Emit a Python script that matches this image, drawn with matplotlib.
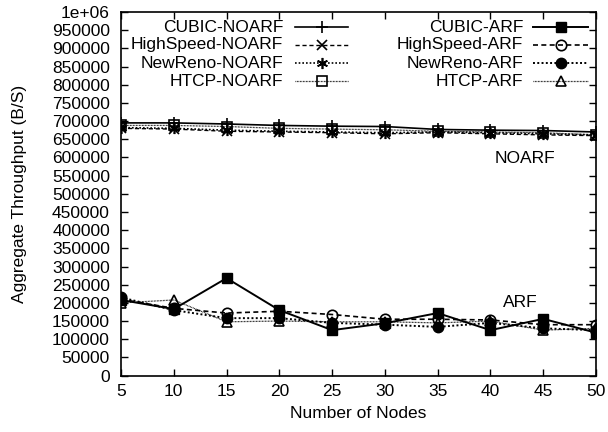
import matplotlib
matplotlib.use("Agg")
import matplotlib.pyplot as plt
from matplotlib.lines import Line2D

plt.rcParams['font.family'] = ['Liberation Sans', 'DejaVu Sans']

nodes = [5, 10, 15, 20, 25, 30, 35, 40, 45, 50]

cubic_noarf = [695000, 695000, 692000, 688000, 686000, 685000, 677000, 675000, 674000, 670000]
highspeed_noarf = [680000, 678000, 672000, 670000, 668000, 665000, 668000, 665000, 662000, 660000]
newreno_noarf = [682000, 680000, 675000, 672000, 670000, 668000, 670000, 668000, 665000, 662000]
htcp_noarf = [688000, 688000, 685000, 680000, 678000, 676000, 672000, 670000, 668000, 662000]

cubic_arf = [208000, 183000, 268000, 180000, 125000, 144000, 172000, 125000, 156000, 118000]
highspeed_arf = [210000, 185000, 172000, 177000, 168000, 155000, 155000, 153000, 140000, 140000]
newreno_arf = [215000, 180000, 158000, 158000, 145000, 140000, 134000, 145000, 130000, 125000]
htcp_arf = [200000, 208000, 148000, 150000, 148000, 148000, 145000, 150000, 125000, 130000]

x_ticks = [5, 10, 15, 20, 25, 30, 35, 40, 45, 50]
y_ticks = list(range(0, 1000001, 50000))
y_ticklabels = [str(v) for v in y_ticks[:-1]] + ['1e+06']

series = [
    ("CUBIC-NOARF", cubic_noarf, dict(ls='-', lw=1.2, marker='+', ms=9, mew=1.2, mfc='none')),
    ("HighSpeed-NOARF", highspeed_noarf, dict(ls=(0, (3, 2)), lw=1.0, marker='x', ms=7, mew=1.2, mfc='none')),
    ("NewReno-NOARF", newreno_noarf, dict(ls=(0, (1, 1.2)), lw=1.2, marker=(6, 2, 0), ms=8, mew=1.2, mfc='none')),
    ("HTCP-NOARF", htcp_noarf, dict(ls=(0, (0.6, 0.6)), lw=0.9, marker='s', ms=7, mew=1.2, mfc='none')),
    ("CUBIC-ARF", cubic_arf, dict(ls='-', lw=1.4, marker='s', ms=7.5, mew=1.0, mfc='black')),
    ("HighSpeed-ARF", highspeed_arf, dict(ls=(0, (3, 2)), lw=1.2, marker='o', ms=7.5, mew=1.2, mfc='none')),
    ("NewReno-ARF", newreno_arf, dict(ls=(0, (1, 1.2)), lw=1.4, marker='o', ms=7.5, mew=1.0, mfc='black')),
    ("HTCP-ARF", htcp_arf, dict(ls=(0, (0.6, 0.6)), lw=0.9, marker='^', ms=7.5, mew=1.2, mfc='none')),
]

fig = plt.figure(figsize=(6.08, 4.32), dpi=100)
ax = fig.add_axes([121/608, 1 - 375.6/432, (596-121)/608, (375.6-12)/432])

for name, vals, st in series:
    ax.plot(nodes, vals, color='black', mec='black', **st)

FS = 12.5
ax.set_xlim(5, 50)
ax.set_ylim(0, 1000000)
ax.set_xticks(x_ticks)
ax.set_xticklabels([str(v) for v in x_ticks])
ax.set_yticks(y_ticks)
ax.set_yticklabels(y_ticklabels)
ax.tick_params(direction='in', length=5, width=1, top=True, right=True, labelsize=FS)
ax.tick_params(axis='y', pad=8)
ax.tick_params(axis='x', pad=6)
for sp in ax.spines.values():
    sp.set_linewidth(1.2)

ax.set_xlabel("Number of Nodes", fontsize=FS, labelpad=5)
ax.set_ylabel("Aggregate Throughput (B/S)", fontsize=FS, labelpad=18)

ax.text(43.3, 598000, "NOARF", fontsize=FS, ha='center', va='center')
ax.text(42.8, 200000, "ARF", fontsize=FS, ha='center', va='center')

# manual gnuplot-style legend (text right-aligned, sample to the right)
def px_to_axes(xp, yp):
    return ((xp - 121) / (596 - 121), (375.6 - yp) / (375.6 - 12))

rows_y = [27, 45, 63, 81]
cols = [(283, 295, 348), (523, 533, 588)]
for i, (name, vals, st) in enumerate(series):
    col = cols[i // 4]
    yp = rows_y[i % 4]
    tx, ty = px_to_axes(col[0], yp)
    ax.text(tx, ty, name, transform=ax.transAxes, ha='right', va='center', fontsize=FS)
    x0, y0 = px_to_axes(col[1], yp)
    x1, _ = px_to_axes(col[2], yp)
    ln = Line2D([x0, x1], [y0, y0], transform=ax.transAxes, color='black',
                ls=st['ls'], lw=st['lw'])
    ax.add_line(ln)
    mk = Line2D([(x0 + x1) / 2], [y0], transform=ax.transAxes, color='black', ls='none',
                marker=st['marker'], ms=st['ms'], mew=st['mew'], mfc=st['mfc'], mec='black')
    ax.add_line(mk)

fig.savefig("out.png", dpi=100)
